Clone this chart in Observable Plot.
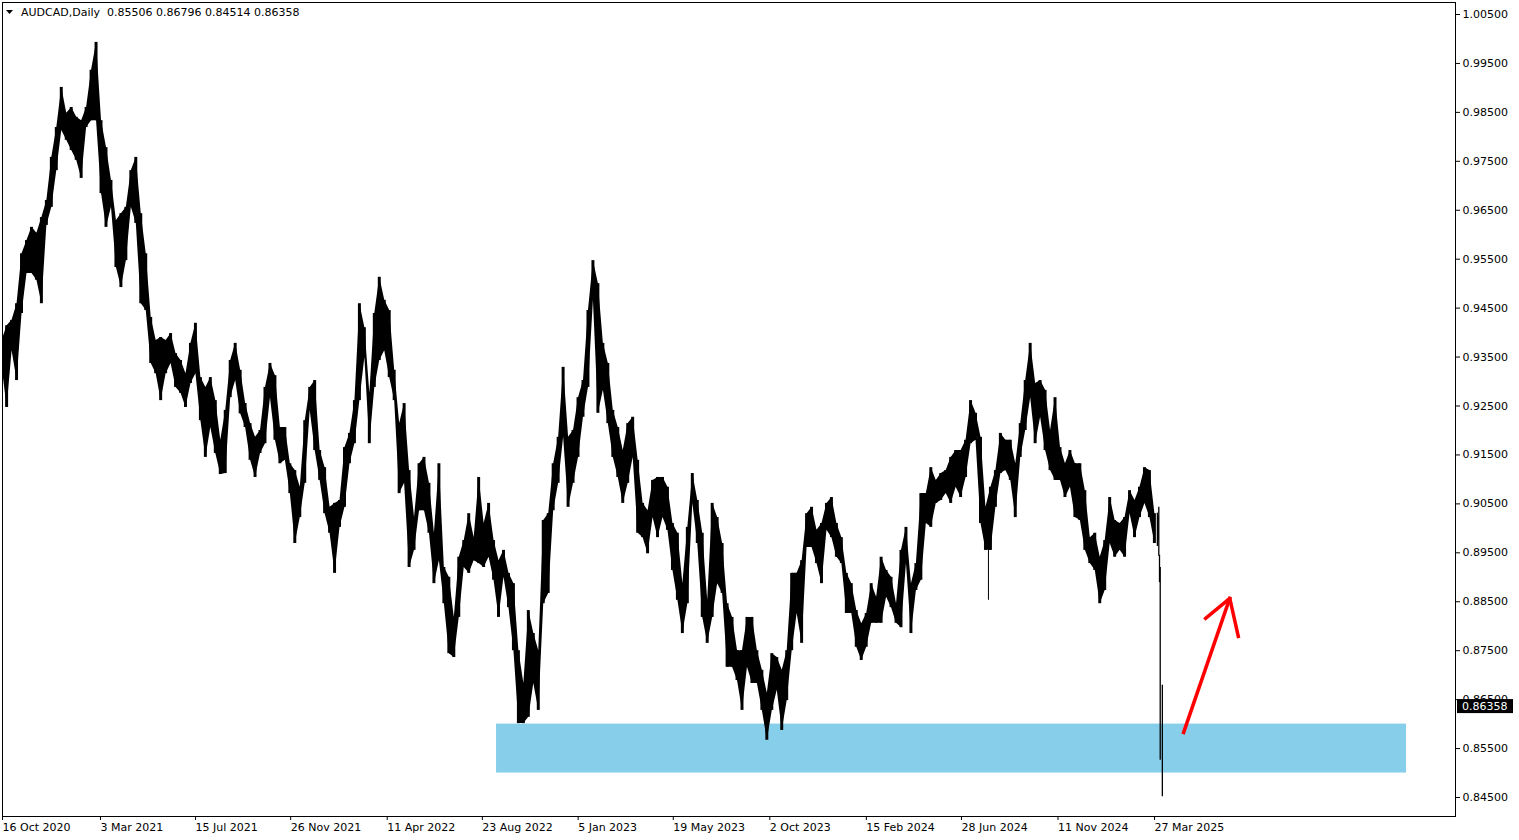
<!DOCTYPE html>
<html><head><meta charset="utf-8">
<script src="https://cdn.jsdelivr.net/npm/d3@7"></script>
<script src="https://cdn.jsdelivr.net/npm/@observablehq/plot@0.6"></script>
<style>
html,body{margin:0;padding:0;background:#fff;}
#chart{position:absolute;left:0;top:0;}
</style></head><body><div id="chart"></div>
<script>
const symbolLabel = "AUDCAD,Daily";
const lastOHLC = [0.85506, 0.86796, 0.84514, 0.86358];

// weekly high/low estimates (weeks starting Monday, first = 2020-10-12)
const firstWeek = "2020-10-12";
const weeklyHigh = [
0.9384,0.9414,0.9425,0.9459,0.9561,0.9588,0.9615,0.9603,0.9635,0.9670,
0.9758,0.9819,0.9901,0.9848,0.9860,0.9840,0.9833,0.9860,0.9936,0.9993,
0.9833,0.9778,0.9711,0.9629,0.9643,0.9656,0.9731,0.9758,0.9643,0.9561,
0.9431,0.9384,0.9390,0.9384,0.9398,0.9357,0.9343,0.9316,0.9378,0.9419,
0.9308,0.9288,0.9308,0.9261,0.9180,0.9241,0.9343,0.9378,0.9323,0.9255,
0.9214,0.9186,0.9200,0.9288,0.9337,0.9312,0.9206,0.9206,0.9132,0.9118,
0.9084,0.9220,0.9288,0.9302,0.9159,0.9124,0.9043,0.9051,0.9057,0.9165,
0.9194,0.9261,0.9459,0.9410,0.9276,0.9439,0.9513,0.9466,0.9445,0.9323,
0.9214,0.9255,0.9118,0.9022,0.9132,0.9145,0.9092,0.8990,0.9132,0.8920,
0.8900,0.8818,0.8941,0.8975,0.9030,0.8981,0.9104,0.9010,0.9051,0.8975,
0.8934,0.8955,0.8908,0.8887,0.8750,0.8683,0.8832,0.8785,0.8750,0.9016,
0.9030,0.9132,0.9186,0.9329,0.9186,0.9200,0.9267,0.9302,0.9445,0.9547,
0.9500,0.9378,0.9337,0.9241,0.9206,0.9159,0.9214,0.9227,0.9139,0.9051,
0.9036,0.9098,0.9104,0.9104,0.9084,0.9010,0.8990,0.8887,0.9002,0.9112,
0.9057,0.8990,0.8853,0.9051,0.9022,0.8969,0.8846,0.8818,0.8750,0.8750,
0.8818,0.8818,0.8750,0.8710,0.8663,0.8744,0.8736,0.8710,0.8750,0.8908,
0.8908,0.8934,0.9030,0.9043,0.8996,0.9010,0.9051,0.9063,0.9010,0.8981,
0.8908,0.8887,0.8832,0.8805,0.8826,0.8887,0.8859,0.8941,0.8914,0.8900,
0.8846,0.8955,0.9002,0.8887,0.8928,0.9071,0.9071,0.9124,0.9098,0.9112,
0.9118,0.9145,0.9159,0.9159,0.9180,0.9261,0.9235,0.9186,0.9043,0.9084,
0.9118,0.9194,0.9180,0.9180,0.9132,0.9214,0.9302,0.9378,0.9296,0.9302,
0.9282,0.9200,0.9267,0.9165,0.9132,0.9159,0.9132,0.9132,0.9077,0.8981,
0.8990,0.8941,0.8975,0.9063,0.9016,0.9010,0.9022,0.9077,0.9057,0.9084,
0.9124,0.9118,0.9030
];
const weeklyLow = [
0.9329,0.9247,0.9363,0.9302,0.9439,0.9521,0.9521,0.9507,0.9459,0.9619,
0.9656,0.9731,0.9813,0.9793,0.9772,0.9752,0.9715,0.9819,0.9833,0.9833,
0.9684,0.9615,0.9656,0.9533,0.9492,0.9547,0.9656,0.9623,0.9459,0.9445,
0.9337,0.9316,0.9261,0.9316,0.9337,0.9288,0.9276,0.9247,0.9296,0.9316,
0.9220,0.9145,0.9206,0.9153,0.9110,0.9112,0.9267,0.9302,0.9234,0.9206,
0.9139,0.9104,0.9153,0.9173,0.9267,0.9180,0.9132,0.9139,0.9071,0.8969,
0.9022,0.9092,0.9241,0.9159,0.9098,0.9030,0.8990,0.8908,0.9002,0.9043,
0.9132,0.9173,0.9261,0.9349,0.9173,0.9288,0.9343,0.9363,0.9308,0.9261,
0.9071,0.9092,0.8920,0.8955,0.9036,0.9036,0.8990,0.8887,0.8934,0.8846,
0.8744,0.8736,0.8818,0.8920,0.8908,0.8934,0.8928,0.8920,0.8941,0.8894,
0.8818,0.8900,0.8838,0.8750,0.8601,0.8601,0.8614,0.8683,0.8628,0.8846,
0.8867,0.9036,0.9092,0.9186,0.9043,0.9092,0.9145,0.9227,0.9288,0.9466,
0.9235,0.9282,0.9214,0.9145,0.9104,0.9051,0.9092,0.9145,0.8990,0.8981,
0.8948,0.9022,0.8981,0.9022,0.8996,0.8914,0.8853,0.8785,0.8846,0.9051,
0.8969,0.8818,0.8765,0.8818,0.8887,0.8867,0.8716,0.8716,0.8689,0.8628,
0.8716,0.8683,0.8683,0.8628,0.8567,0.8628,0.8669,0.8587,0.8648,0.8750,
0.8826,0.8765,0.8961,0.8961,0.8928,0.8887,0.8996,0.8981,0.8941,0.8928,
0.8826,0.8826,0.8757,0.8730,0.8757,0.8806,0.8806,0.8806,0.8859,0.8838,
0.8806,0.8797,0.8928,0.8785,0.8873,0.8894,0.9010,0.9002,0.9051,0.9057,
0.9071,0.9051,0.9084,0.9063,0.9104,0.9173,0.9180,0.9010,0.8955,0.8955,
0.9043,0.9112,0.9118,0.9098,0.9022,0.9145,0.9200,0.9267,0.9173,0.9227,
0.9159,0.9118,0.9098,0.9098,0.9063,0.9084,0.9022,0.9016,0.8955,0.8928,
0.8914,0.8846,0.8873,0.8969,0.8941,0.8955,0.8941,0.9030,0.8981,0.9022,
0.9051,0.9022,0.8969
];

// last days drawn individually
const dailyDates = ["2025-03-31","2025-04-01","2025-04-02","2025-04-03","2025-04-04","2025-04-07"];
const dailyHigh  = [0.9031, 0.9024, 0.9043, 0.8945, 0.8920, 0.86796];
const dailyLow   = [0.8963, 0.8975, 0.8943, 0.8889, 0.8526, 0.84514];

// single-day spikes
const spikeDates = ["2024-08-05"];
const spikeHigh = [0.8990];
const spikeLow = [0.8853];

// support zone and drawn arrow
const zoneDates = ["2022-09-12", "2026-03-17"];
const zonePrices = [0.8600, 0.8500];
const arrowShaftDates = ["2025-05-07", "2025-07-11"];
const arrowShaftPrices = [0.8583, 0.8857];
const arrowHeadDates = ["2025-06-07", "2025-07-11", "2025-07-23"];
const arrowHeadPrices = [0.8816, 0.8857, 0.8779];

// axes
const xTickDates = ["2020-10-16","2021-03-03","2021-07-15","2021-11-26","2022-04-11","2022-08-23",
  "2023-01-05","2023-05-19","2023-10-02","2024-02-15","2024-06-28","2024-11-11","2025-03-27"];
const yTicks = [1.005,0.995,0.985,0.975,0.965,0.955,0.945,0.935,0.925,0.915,0.905,0.895,0.885,0.875,0.865,0.855,0.845];
const xDomain = ["2020-10-16", "2026-05-25"];
const yDomain = [0.84112, 1.00745];

// build tables
const D = s => new Date(s);
const week0 = D(firstWeek);
const weeks = weeklyHigh.map((h, i) => {
  const start = d3.utcMonday.offset(week0, i);
  const end = d3.utcMonday.offset(start, 1);
  return {start, end, mid: new Date((+start + +end) / 2), high: h, low: weeklyLow[i]};
});
const days = dailyDates.map((d, i) => ({date: D(d), high: dailyHigh[i], low: dailyLow[i]}));
const spikes = spikeDates.map((d, i) => ({date: D(d), high: spikeHigh[i], low: spikeLow[i]}));
const zone = [{x1: D(zoneDates[0]), x2: D(zoneDates[1]), y1: zonePrices[1], y2: zonePrices[0]}];
const shaft = arrowShaftDates.map((d, i) => ({date: D(d), price: arrowShaftPrices[i]}));
const head = arrowHeadDates.map((d, i) => ({date: D(d), price: arrowHeadPrices[i]}));

const plot = Plot.plot({
  width: 1519, height: 840,
  marginLeft: 2, marginRight: 64, marginTop: 2, marginBottom: 24,
  style: {fontFamily: "DejaVu Sans, Tahoma, sans-serif", fontSize: "11px", color: "#000", background: "#fff", overflow: "visible"},
  x: {type: "utc", domain: xDomain.map(D)},
  y: {domain: yDomain},
  marks: [
    Plot.rect(zone, {x1: "x1", x2: "x2", y1: "y1", y2: "y2", fill: "#87CEEB"}),
    Plot.areaY(weeks, {x: "mid", y1: "low", y2: "high", fill: "#000", curve: "linear", clip: true}),
    Plot.rect(weeks, {x1: "start", x2: "end", y1: "low", y2: "high", fill: "#000", clip: true, insetLeft: 1, insetRight: 1}),
    Plot.ruleX(days, {x: "date", y1: "low", y2: "high", stroke: "#000", strokeWidth: 1.3}),
    Plot.ruleX(spikes, {x: "date", y1: "low", y2: "high", stroke: "#000", strokeWidth: 1}),
    Plot.line(shaft, {x: "date", y: "price", stroke: "#ff0000", strokeWidth: 3.5, strokeLinecap: "square"}),
    Plot.line(head, {x: "date", y: "price", stroke: "#ff0000", strokeWidth: 3.5, strokeLinecap: "square", strokeLinejoin: "miter"}),
    Plot.frame({stroke: "#000"}),
    Plot.axisY(yTicks, {anchor: "right", tickSize: 4, tickPadding: 3, tickFormat: d3.format(".5f")}),
    Plot.axisX(xTickDates.map(D), {anchor: "bottom", tickSize: 4, tickPadding: 3, textAnchor: "start", dx: 0, tickFormat: d3.utcFormat("%-d %b %Y")})
  ]
});

const svg = d3.select(plot);
// current price label on right axis
const yPix = plot.scale("y").apply(lastOHLC[3]);
svg.append("rect").attr("x", 1457).attr("y", yPix - 7).attr("width", 56).attr("height", 14).attr("fill", "#000");
svg.append("text").attr("x", 1462).attr("y", yPix + 4).attr("text-anchor", "start").attr("fill", "#fff")
  .text(d3.format(".5f")(lastOHLC[3]));
// header
svg.append("path").attr("d", "M6,10 L13,10 L9.5,14 Z").attr("fill", "#000");
svg.append("text").attr("x", 21).attr("y", 16).attr("text-anchor", "start").attr("fill", "#000")
  .attr("xml:space", "preserve").style("white-space", "pre")
  .text(symbolLabel + "  " + lastOHLC.map(d3.format(".5f")).join(" "));

document.getElementById("chart").appendChild(plot);
</script>
</body></html>
